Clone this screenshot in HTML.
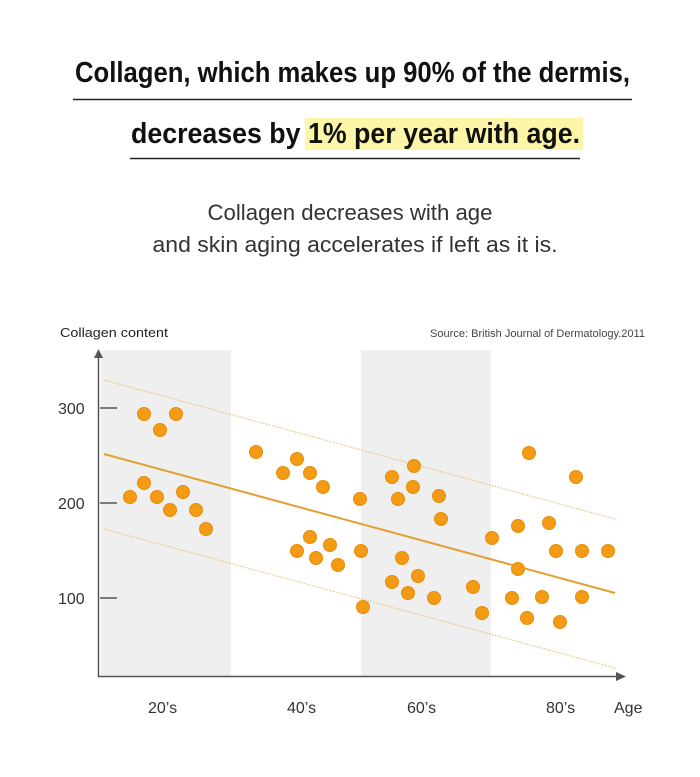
<!DOCTYPE html>
<html><head><meta charset="utf-8"><style>
html,body{margin:0;padding:0;background:#fff;}
svg{display:block;}
</style></head><body>
<svg width="700" height="777" viewBox="0 0 700 777" xmlns="http://www.w3.org/2000/svg" font-family="Liberation Sans, sans-serif">
<rect width="700" height="777" fill="#fff"/>
<rect x="305" y="118" width="278" height="32" fill="#fdf6a8"/>
<text x="75" y="82" font-size="29" font-weight="bold" fill="#111" textLength="555" lengthAdjust="spacingAndGlyphs">Collagen, which makes up 90% of the dermis,</text>
<line x1="73" y1="99.5" x2="632" y2="99.5" stroke="#222" stroke-width="1.5"/>
<text x="131" y="143" font-size="29" font-weight="bold" fill="#111" textLength="449" lengthAdjust="spacingAndGlyphs">decreases by 1% per year with age.</text>
<line x1="130" y1="158.5" x2="580" y2="158.5" stroke="#222" stroke-width="1.5"/>
<text x="350" y="220" font-size="22" fill="#333" text-anchor="middle" textLength="285" lengthAdjust="spacingAndGlyphs">Collagen decreases with age</text>
<text x="355" y="252" font-size="22" fill="#333" text-anchor="middle" textLength="405" lengthAdjust="spacingAndGlyphs">and skin aging accelerates if left as it is.</text>
<text x="60" y="337" font-size="13" fill="#222" textLength="108" lengthAdjust="spacingAndGlyphs">Collagen content</text>
<text x="430" y="337" font-size="11" fill="#444" textLength="215" lengthAdjust="spacingAndGlyphs">Source: British Journal of Dermatology.2011</text>
<rect x="101" y="350" width="130" height="326" fill="#efefef"/>
<rect x="361" y="350" width="130" height="326" fill="#efefef"/>
<line x1="98.5" y1="352" x2="98.5" y2="677" stroke="#555" stroke-width="1.5"/>
<path d="M94,358 L98.5,349 L103,358 Z" fill="#555"/>
<line x1="98" y1="676.5" x2="620" y2="676.5" stroke="#555" stroke-width="1.5"/>
<path d="M616,672 L626,676.5 L616,681 Z" fill="#555"/>
<g stroke="#555" stroke-width="1.5">
<line x1="100" y1="408" x2="117" y2="408"/><line x1="100" y1="503" x2="117" y2="503"/><line x1="100" y1="598" x2="117" y2="598"/>
</g>
<g font-size="16" fill="#333">
<text x="58" y="414">300</text><text x="58" y="509">200</text><text x="58" y="604">100</text>
<text x="148" y="713">20’s</text><text x="287" y="713">40’s</text><text x="407" y="713">60’s</text><text x="546" y="713">80’s</text><text x="614" y="713">Age</text>
</g>
<line x1="104" y1="380" x2="615" y2="519" stroke="#e9c27a" stroke-width="1.2" stroke-dasharray="1.5,1.5"/>
<line x1="104" y1="529" x2="615" y2="668" stroke="#e9c27a" stroke-width="1.2" stroke-dasharray="1.5,1.5"/>
<line x1="104" y1="454" x2="615" y2="593" stroke="#e2a030" stroke-width="2"/>
<g fill="#f49b15" stroke="#e58d0a" stroke-width="1">
<circle cx="144" cy="414" r="6.5"/><circle cx="176" cy="414" r="6.5"/><circle cx="160" cy="430" r="6.5"/>
<circle cx="130" cy="497" r="6.5"/><circle cx="144" cy="483" r="6.5"/><circle cx="157" cy="497" r="6.5"/>
<circle cx="170" cy="510" r="6.5"/><circle cx="183" cy="492" r="6.5"/><circle cx="196" cy="510" r="6.5"/><circle cx="206" cy="529" r="6.5"/>
<circle cx="256" cy="452" r="6.5"/><circle cx="283" cy="473" r="6.5"/><circle cx="297" cy="459" r="6.5"/><circle cx="310" cy="473" r="6.5"/><circle cx="323" cy="487" r="6.5"/><circle cx="360" cy="499" r="6.5"/>
<circle cx="297" cy="551" r="6.5"/><circle cx="310" cy="537" r="6.5"/><circle cx="316" cy="558" r="6.5"/><circle cx="330" cy="545" r="6.5"/><circle cx="338" cy="565" r="6.5"/><circle cx="361" cy="551" r="6.5"/><circle cx="363" cy="607" r="6.5"/>
<circle cx="529" cy="453" r="6.5"/><circle cx="576" cy="477" r="6.5"/><circle cx="414" cy="466" r="6.5"/><circle cx="392" cy="477" r="6.5"/><circle cx="413" cy="487" r="6.5"/><circle cx="398" cy="499" r="6.5"/><circle cx="439" cy="496" r="6.5"/><circle cx="441" cy="519" r="6.5"/>
<circle cx="492" cy="538" r="6.5"/><circle cx="518" cy="526" r="6.5"/><circle cx="549" cy="523" r="6.5"/><circle cx="556" cy="551" r="6.5"/><circle cx="582" cy="551" r="6.5"/><circle cx="608" cy="551" r="6.5"/>
<circle cx="402" cy="558" r="6.5"/><circle cx="418" cy="576" r="6.5"/><circle cx="392" cy="582" r="6.5"/><circle cx="408" cy="593" r="6.5"/><circle cx="434" cy="598" r="6.5"/><circle cx="473" cy="587" r="6.5"/><circle cx="482" cy="613" r="6.5"/>
<circle cx="518" cy="569" r="6.5"/><circle cx="512" cy="598" r="6.5"/><circle cx="542" cy="597" r="6.5"/><circle cx="582" cy="597" r="6.5"/><circle cx="527" cy="618" r="6.5"/><circle cx="560" cy="622" r="6.5"/>
</g>
</svg>
</body></html>
